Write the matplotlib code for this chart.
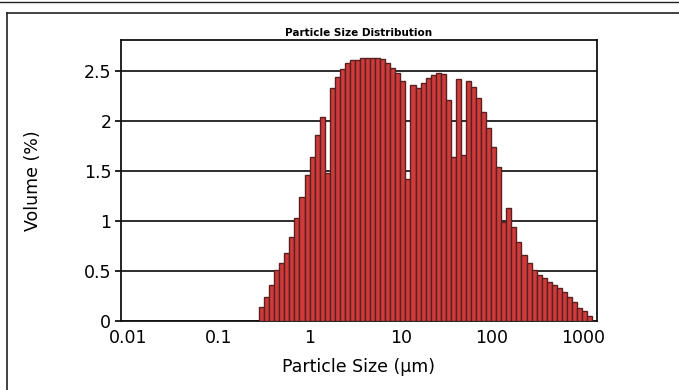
import matplotlib
matplotlib.use('Agg')
import matplotlib.pyplot as plt
from matplotlib.lines import Line2D

# size class edges (um) for the bars that are drawn
size_edges = [0.2763, 0.3139, 0.3567, 0.4052, 0.4604, 0.5231, 0.5943, 0.6752,
              0.7672, 0.8716, 0.9905, 1.125, 1.279, 1.453, 1.651, 1.875,
              2.131, 2.421, 2.750, 3.125, 3.550, 4.034, 4.583, 5.207,
              5.916, 6.722, 7.637, 8.677, 9.858, 11.20, 12.73, 14.46,
              16.43, 18.67, 21.21, 24.10, 27.38, 31.11, 35.34, 40.15,
              45.62, 51.82, 58.88, 66.90, 76.01, 86.36, 98.11, 111.5,
              126.7, 143.9, 163.5, 185.8, 211.0, 239.8, 272.4, 309.5,
              351.6, 399.5, 453.9, 515.7, 585.9, 665.6, 756.3, 859.2,
              976.4, 1109, 1261]

# volume % per size class
volume = [0.14, 0.24, 0.36, 0.51, 0.58, 0.68, 0.84, 1.03, 1.24, 1.46,
          1.64, 1.86, 2.04, 1.48, 2.33, 2.44, 2.52, 2.58, 2.61, 2.61,
          2.63, 2.63, 2.63, 2.63, 2.62, 2.58, 2.53, 2.48, 2.40, 1.42,
          2.36, 2.33, 2.38, 2.43, 2.46, 2.48, 2.47, 2.21, 1.64, 2.42,
          1.66, 2.40, 2.34, 2.23, 2.09, 1.93, 1.74, 1.54, 0.99, 1.13,
          0.94, 0.79, 0.66, 0.58, 0.51, 0.46, 0.43, 0.39, 0.36, 0.33,
          0.29, 0.24, 0.19, 0.13, 0.10, 0.05]

x_ticks = [0.01, 0.1, 1, 10, 100, 1000]
x_ticklabels = ['0.01', '0.1', '1', '10', '100', '1000']
y_ticks = [0, 0.5, 1, 1.5, 2, 2.5]
y_ticklabels = ['0', '0.5', '1', '1.5', '2', '2.5']

fig = plt.figure(figsize=(6.79, 3.90), dpi=100)
ax = fig.add_axes([121 / 679, 1 - 321 / 390, 476 / 679, 281 / 390])

lefts = size_edges[:-1]
widths = [b - a for a, b in zip(size_edges[:-1], size_edges[1:])]
ax.bar(lefts, volume, width=widths, align='edge',
       color='#cf3b3b', edgecolor='#5a2020', linewidth=1.0, zorder=3)

ax.set_xscale('log')
ax.set_xlim(0.0084, 1425)
ax.set_ylim(0, 2.81)
ax.set_xticks(x_ticks)
ax.set_xticklabels(x_ticklabels)
ax.minorticks_off()
ax.set_yticks(y_ticks)
ax.set_yticklabels(y_ticklabels)
ax.tick_params(axis='both', labelsize=12.5, length=0, pad=6)
ax.tick_params(axis='y', length=4, width=1.2, pad=3)

ax.yaxis.grid(True, color='#1c1c1c', linewidth=1.3, zorder=1)
for s in ax.spines.values():
    s.set_linewidth(1.3)
    s.set_color('#111111')

ax.set_xlabel('Particle Size (\u00b5m)', fontsize=12.5, labelpad=8)
ax.set_ylabel('Volume (%)', fontsize=12.5, labelpad=30)
ax.set_title('Particle Size Distribution', fontsize=7.5, fontweight='bold',
             pad=3, family='DejaVu Sans Condensed')

# scanned page frame
fw, fh = 679, 390
fig.add_artist(Line2D([0, 1], [1 - 2 / fh, 1 - 2 / fh], color='#222', lw=1.0))
fig.add_artist(Line2D([7 / fw, 1], [1 - 13 / fh, 1 - 13 / fh], color='#222', lw=1.2))
fig.add_artist(Line2D([7 / fw, 7 / fw], [0, 1 - 13 / fh], color='#222', lw=1.2))

fig.savefig('out.png', dpi=100)
